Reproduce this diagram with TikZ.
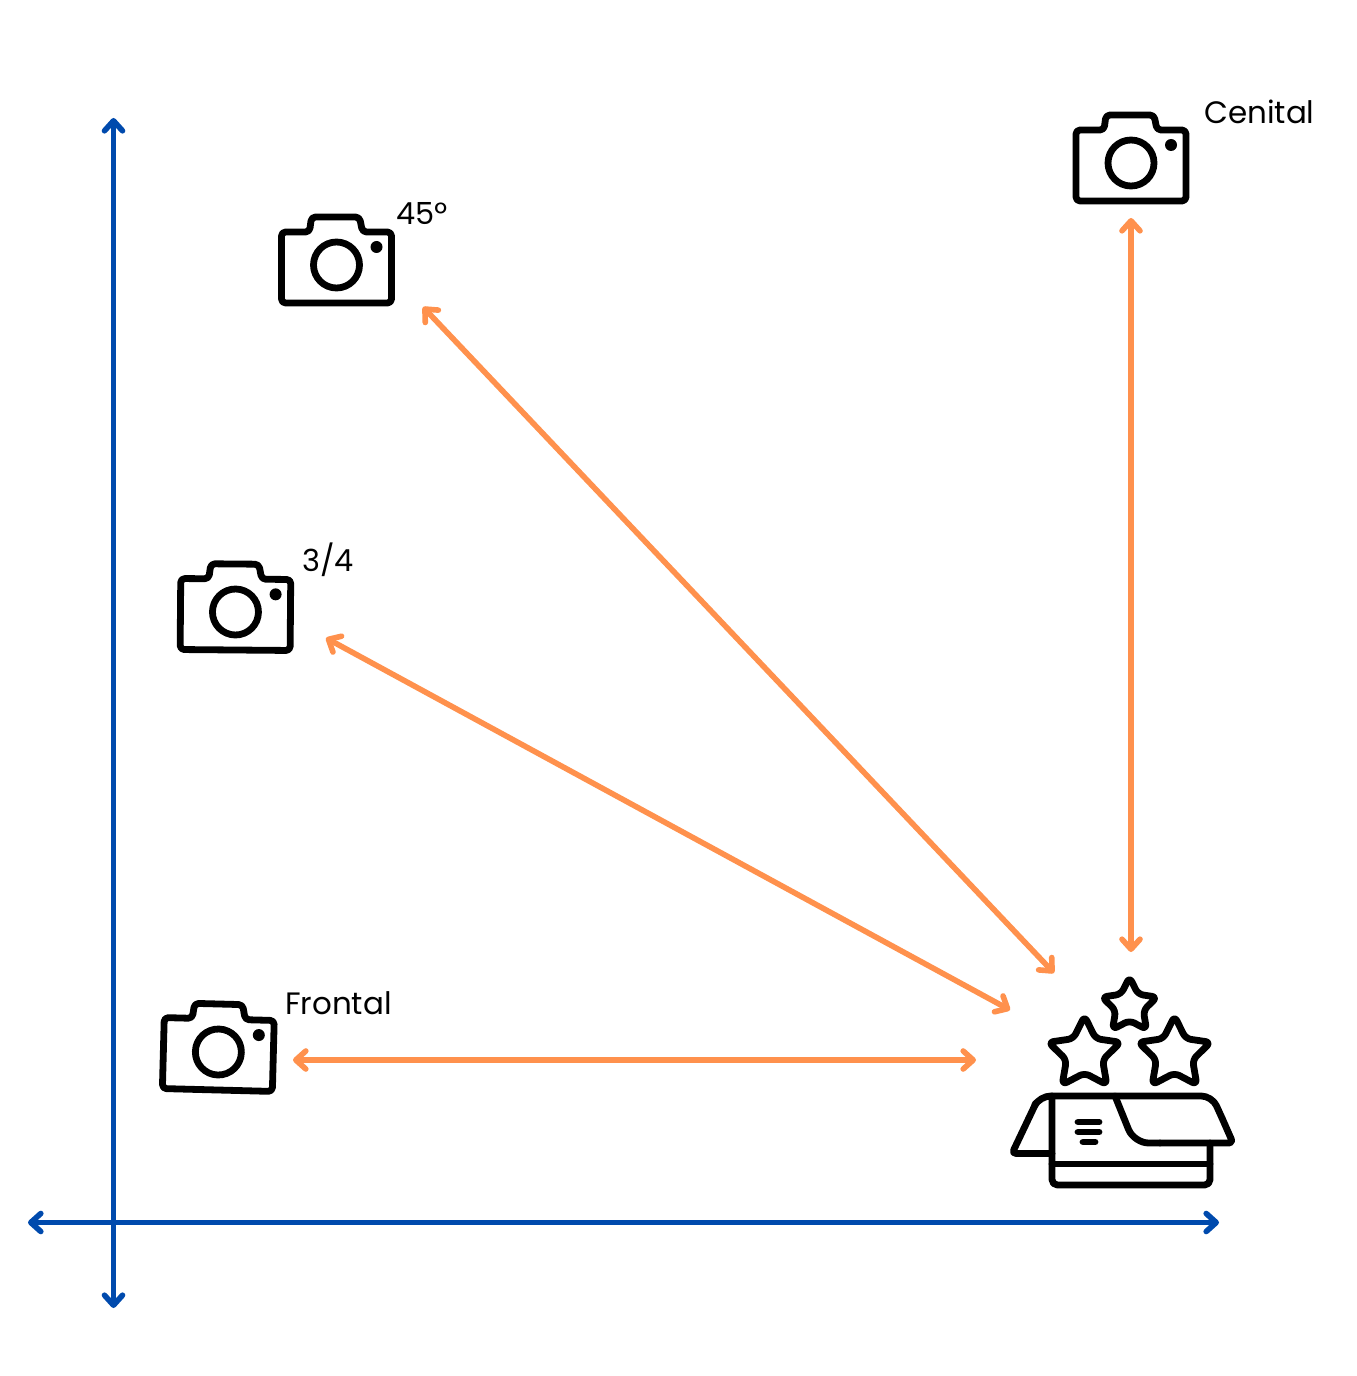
\documentclass[tikz,border=0pt]{standalone}
\usepackage{fontspec}
\setmainfont{Poppins}
\usetikzlibrary{arrows.meta}
\definecolor{axisblue}{HTML}{004AAD}
\definecolor{arroworange}{HTML}{FF914D}
\tikzset{
  px/.style={x=.75pt,y=-.75pt},
  tipstyle/.style={{Straight Barb[length=7.5pt,width=13.5pt,round,line width=4.2pt]}-{Straight Barb[length=7.5pt,width=13.5pt,round,line width=4.2pt]}},
  axisline/.style={draw=axisblue,line width=4.2pt,tipstyle},
  viewline/.style={draw=arroworange,line width=4.2pt,tipstyle},
  iconline/.style={draw=black,line width=5.1pt,line cap=round,line join=round},
  label/.style={font=\fontsize{23.2pt}{26pt}\selectfont,inner sep=0pt,anchor=base west},
  smalllabel/.style={font=\fontsize{22.8pt}{26pt}\selectfont,inner sep=0pt,anchor=base west},
  camera/.pic={
    \draw[iconline,rounded corners=3pt] (-55,-28) -- (-27,-28) -- (-25,-43) -- (23,-43) -- (26,-28) -- (55,-28) -- (55,43) -- (-55,43) -- cycle;
    \draw[iconline] (0,5) circle[radius=23];
    \fill (40,-13) circle[radius=6];
  },
  starshape/.pic={
    \draw[iconline,rounded corners=4pt] (-90:1) -- (-54:.5) -- (-18:1) -- (18:.5) -- (54:1) -- (90:.5) -- (126:1) -- (162:.5) -- (198:1) -- (234:.5) -- cycle;
  },
}
\begin{document}
\begin{tikzpicture}[px]
\useasboundingbox (0,0) rectangle (1356,1376);
% axes
\coordinate (ytop) at (113.5,118);
\coordinate (ybot) at (113.5,1308);
\coordinate (xleft) at (28,1222.5);
\coordinate (xright) at (1219,1222.5);
\draw[axisline] (ytop) -- (ybot);
\draw[axisline] (xleft) -- (xright);
% view arrows
\coordinate (cenA) at (1131,218);
\coordinate (cenB) at (1131,952);
\coordinate (fortyA) at (423,307);
\coordinate (fortyB) at (1054,973);
\coordinate (tqA) at (326,638);
\coordinate (tqB) at (1010,1010);
\coordinate (frA) at (293,1060);
\coordinate (frB) at (976,1060);
\draw[viewline] (cenA) -- (cenB);
\draw[viewline] (fortyA) -- (fortyB);
\draw[viewline] (tqA) -- (tqB);
\draw[viewline] (frA) -- (frB);
% cameras
\pic at (1131,158) {camera};
\pic at (336.5,260) {camera};
\pic[rotate=-.5] at (235.5,607) {camera};
\pic[rotate=-1.5] at (218.5,1047) {camera};
% labels
\node[label] (lcen) at (1204,124) {Cenital};
\node[smalllabel] (l45) at (396,224.5) {45º};
\node[smalllabel] (l34) at (302,571) {3/4};
\node[label] (lfr) at (285,1014) {Frontal};
% stars
\pic[scale=29] at (1129.5,1006) {starshape};
\pic[scale=38] at (1084.5,1054) {starshape};
\pic[scale=38] at (1174.5,1054) {starshape};
% open box
\begin{scope}[iconline]
\draw[rounded corners=3pt] (1052,1153.5) -- (1012,1153.5) -- (1036,1103);
\draw[rounded corners=8pt] (1036,1103) -- (1040,1096) -- (1212,1096) -- (1222,1118);
\draw[rounded corners=3pt] (1222,1118) -- (1233,1143) -- (1160,1143);
\draw[rounded corners=11pt] (1160,1143) -- (1134,1143) -- (1115,1096);
\draw[rounded corners=4pt] (1052,1096) -- (1052,1185) -- (1210,1185) -- (1210,1143);
\draw (1052,1164) -- (1210,1164);
\draw (1078,1122) -- (1099,1122);
\draw (1078,1132) -- (1099,1132);
\draw (1083,1142) -- (1095,1142);
\end{scope}
\end{tikzpicture}
\end{document}
